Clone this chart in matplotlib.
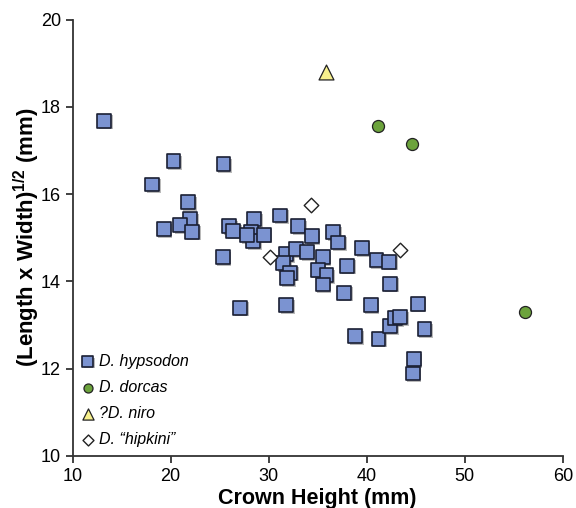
import numpy as np
import matplotlib
matplotlib.use('Agg')
import matplotlib.pyplot as plt
import matplotlib.patheffects as pe

plt.rcParams['font.family'] = ['Liberation Sans', 'DejaVu Sans']
plt.rcParams['mathtext.fontset'] = 'custom'
plt.rcParams['mathtext.rm'] = 'Liberation Sans'
plt.rcParams['mathtext.bf'] = 'Liberation Sans:bold'

# D. hypsodon
hyp_x = [13.2, 20.3, 25.4, 18.1, 21.8, 22.0, 19.3, 21.0, 22.2, 25.3, 26.0, 26.4,
         28.5, 28.2, 28.4, 27.8, 29.5, 31.2, 33.0, 34.4, 36.6, 37.1, 39.5, 41.0,
         42.3, 42.4, 31.8, 32.8, 33.9, 31.5, 32.2, 31.9, 35.5, 35.0, 35.9, 35.5,
         38.0, 37.7, 40.4, 31.8, 27.1, 38.8, 41.2, 42.4, 42.9, 43.4, 45.2, 45.9,
         44.8, 44.7]
hyp_y = [17.68, 16.75, 16.69, 16.22, 15.81, 15.42, 15.20, 15.29, 15.14, 14.55, 15.26, 15.16,
         15.42, 15.13, 14.92, 15.06, 15.07, 15.51, 15.26, 15.04, 15.13, 14.89, 14.76, 14.48,
         14.45, 13.95, 14.62, 14.74, 14.67, 14.42, 14.20, 14.08, 14.55, 14.27, 14.14, 13.93,
         14.36, 13.74, 13.46, 13.46, 13.40, 12.75, 12.69, 12.98, 13.16, 13.18, 13.49, 12.90,
         12.22, 11.89]

# D. dorcas
dor_x = [41.2, 44.65, 56.15]
dor_y = [17.56, 17.14, 13.31]

# ?D. niro
niro_x = [35.85]
niro_y = [18.80]

# D. "hipkini"
hip_x = [34.3, 30.1, 43.4]
hip_y = [15.75, 14.56, 14.71]

fig = plt.figure(figsize=(5.76, 5.08), dpi=100)
ax = fig.add_axes([0.126, 0.1024, 0.851, 0.8592])

shadow = [pe.SimplePatchShadow(offset=(1.2, -1.2), shadow_rgbFace='0.55', alpha=0.6), pe.Normal()]

ax.scatter(hyp_x, hyp_y, marker='s', s=100, c='#7b93d1', edgecolors='#1a1f33', linewidths=1.2,
           label='D. hypsodon', zorder=3, path_effects=shadow)
ax.scatter(dor_x, dor_y, marker='o', s=75, c='#6ca33c', edgecolors='#222222', linewidths=0.9,
           label='D. dorcas', zorder=3)
ax.scatter(niro_x, niro_y, marker='^', s=115, c='#f7f08c', edgecolors='#222222', linewidths=0.9,
           label='?D. niro', zorder=3)
ax.scatter(hip_x, hip_y, marker='D', s=55, c='white', edgecolors='#222222', linewidths=1.0,
           label='D. \u201chipkini\u201d', zorder=3)

ax.set_xlim(10, 60)
ax.set_ylim(10, 20)
ax.set_xticks([10, 20, 30, 40, 50, 60])
ax.set_yticks([10, 12, 14, 16, 18, 20])
ax.spines['top'].set_visible(False)
ax.spines['right'].set_visible(False)
for s in ['left', 'bottom']:
    ax.spines[s].set_linewidth(1.3)
    ax.spines[s].set_color('#333333')
ax.tick_params(direction='out', length=5, width=1.3, labelsize=13, color='#333333')

ax.set_xlabel('Crown Height (mm)', fontsize=15.5, fontweight='bold', labelpad=2)
ax.set_ylabel(r'(Length x Width)$^{\mathbf{1/2}}$ (mm)', fontsize=16, fontweight='bold')
ax.yaxis.set_label_coords(-0.062, 0.5)

leg = ax.legend(loc='lower left', bbox_to_anchor=(-0.005, -0.002), frameon=False,
                prop={'style': 'italic', 'size': 11.5}, handletextpad=0.2, handlelength=1.0,
                labelspacing=0.7, markerscale=0.75, borderaxespad=0.2)

fig.savefig('out.png', dpi=100)
